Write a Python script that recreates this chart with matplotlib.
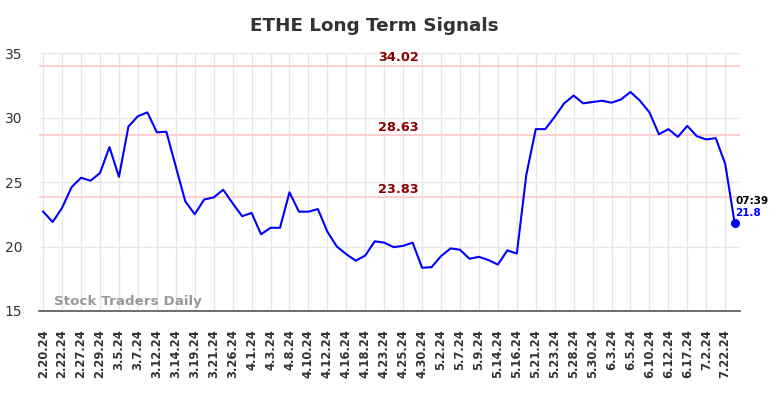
import numpy as np
import matplotlib
matplotlib.use("Agg")
import matplotlib.pyplot as plt

# tick labels (every other trading day)
dates = ['2.20.24', '2.22.24', '2.27.24', '2.29.24', '3.5.24', '3.7.24', '3.12.24',
         '3.14.24', '3.19.24', '3.21.24', '3.26.24', '4.1.24', '4.3.24', '4.8.24',
         '4.10.24', '4.12.24', '4.16.24', '4.18.24', '4.23.24', '4.25.24', '4.30.24',
         '5.2.24', '5.7.24', '5.9.24', '5.14.24', '5.16.24', '5.21.24', '5.23.24',
         '5.28.24', '5.30.24', '6.3.24', '6.5.24', '6.10.24', '6.12.24', '6.17.24',
         '7.2.24', '7.22.24']

prices = [22.7, 21.9, 23.0, 24.6, 25.33, 25.1, 25.7, 27.7, 25.4, 29.3,
          30.1, 30.4, 28.85, 28.9, 26.2, 23.5, 22.5, 23.65, 23.8, 24.4,
          23.35, 22.35, 22.6, 20.95, 21.45, 21.45, 24.2, 22.7, 22.7, 22.9,
          21.15, 20.0, 19.4, 18.9, 19.3, 20.4, 20.3, 19.95, 20.05, 20.3,
          18.35, 18.4, 19.25, 19.85, 19.75, 19.05, 19.2, 18.95, 18.6, 19.7,
          19.45, 25.55, 29.1, 29.1, 30.05, 31.1, 31.7, 31.1, 31.2, 31.3,
          31.15, 31.4, 31.98, 31.3, 30.4, 28.7, 29.1, 28.5, 29.35, 28.55,
          28.3, 28.4, 26.4, 21.8]

signals = [34.02, 28.63, 23.83]
last_time = '07:39'


def main():
    fig = plt.figure(figsize=(7.84, 3.98), dpi=100)
    ax = fig.add_axes([0.050, 0.2186, 0.894, 0.6482])

    x = np.arange(len(prices))
    ax.plot(x, prices, color='#0000ff', lw=1.5, zorder=3)
    ax.plot(x[-1], prices[-1], 'o', color='#0000ff', ms=5.5, zorder=4)

    for s in signals:
        ax.axhline(s, color='#ffcccc', lw=1.3, zorder=2)
        ax.text(37.5, s + 0.12, '%.2f' % s, color='#8b0000', fontsize=9.3,
                fontweight='bold', ha='center', va='bottom', zorder=5)

    ax.text(x[-1] + 0.05, prices[-1] + 1.75, last_time, color='black', fontsize=7.5,
            fontweight='bold', ha='left', va='center')
    ax.text(x[-1] + 0.05, prices[-1] + 0.8, '%.1f' % prices[-1], color='#0000ff',
            fontsize=7.5, fontweight='bold', ha='left', va='center')

    ax.text(1.1, 15.7, 'Stock Traders Daily', color='#999999', fontsize=9.7,
            fontweight='bold', ha='left', va='center')

    ax.set_xlim(-0.42, 73.57)
    ax.set_ylim(15, 35)
    ax.set_yticks([15, 20, 25, 30, 35])
    ax.set_xticks(np.arange(0, len(dates) * 2, 2))
    ax.set_xticklabels(dates, rotation=90, fontsize=8.3, fontweight='bold',
                       color='#333333')
    ax.tick_params(axis='y', labelsize=10, colors='#333333', length=0, pad=12)
    ax.tick_params(axis='x', length=0, pad=13)
    ax.grid(True, color='#e6e6e6', lw=1, zorder=0)

    for sp in ['top', 'right', 'left']:
        ax.spines[sp].set_visible(False)
    ax.spines['bottom'].set_color('#555555')
    ax.spines['bottom'].set_linewidth(1.2)

    fig.text(0.4777, 0.935, 'ETHE Long Term Signals', ha='center', va='center',
             fontsize=13.2, fontweight='bold', color='#333333')

    fig.savefig('out.png', dpi=100)


if __name__ == "__main__":
    main()
